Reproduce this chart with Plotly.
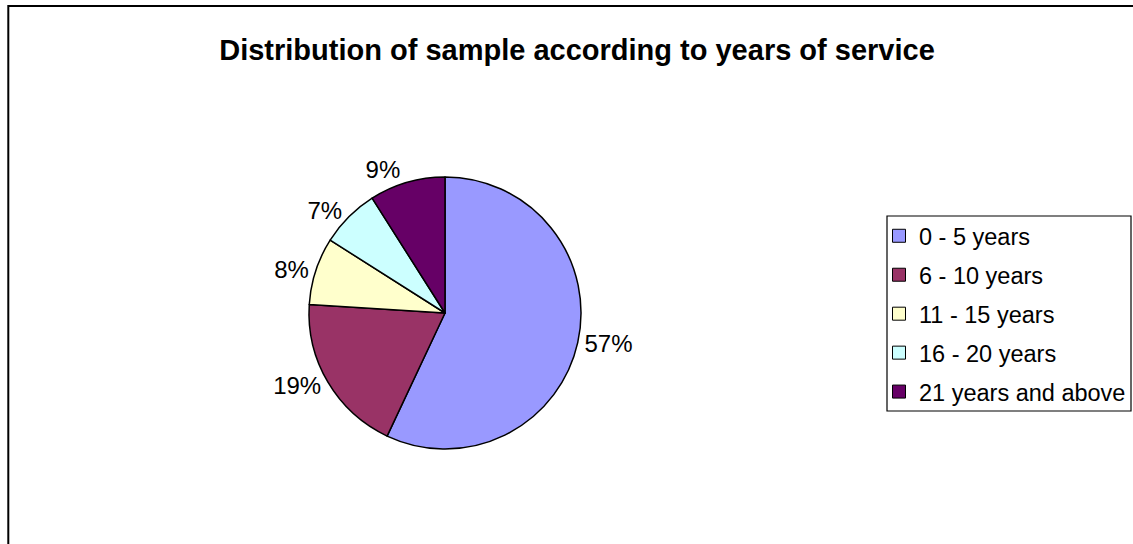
import plotly.graph_objects as go

categories = ["0 - 5 years", "6 - 10 years", "11 - 15 years", "16 - 20 years", "21 years and above"]
values = [57, 19, 8, 7, 9]
colors = ["#9999FF", "#993366", "#FFFFCC", "#CCFFFF", "#660066"]
title_text = "Distribution of sample according to years of service"

W, H = 1133, 544
FONT = "Arial, Liberation Sans, sans-serif"

# pie geometry (pixels)
cx, cy, r = 445, 313, 136
# legend box (pixels)
lx0, lx1, ly0, ly1 = 887, 1131, 216, 411

fig = go.Figure()
fig.add_trace(go.Pie(
    labels=categories,
    values=values,
    sort=False,
    direction="clockwise",
    rotation=0,
    marker=dict(colors=colors, line=dict(color="black", width=1.5)),
    textinfo="percent",
    texttemplate="%{percent:.0%}",
    textposition="outside",
    outsidetextfont=dict(family=FONT, size=24, color="black"),
    showlegend=False,
    domain=dict(x=[(cx - r) / W, (cx + r) / W],
                y=[(H - cy - r) / H, (H - cy + r) / H]),
    hoverinfo="label+percent",
))

# legend entries (one per category so spacing can be controlled)
for i, (cat, col) in enumerate(zip(categories, colors)):
    fig.add_trace(go.Scatter(
        x=[None], y=[None], mode="markers", name=cat,
        marker=dict(symbol="square", size=13, color=col,
                    line=dict(color="black", width=1)),
        legendgroup=f"g{i}", showlegend=True,
    ))

fig.update_layout(
    width=W, height=H,
    margin=dict(l=0, r=0, t=0, b=0, autoexpand=False),
    paper_bgcolor="white", plot_bgcolor="white",
    xaxis=dict(visible=False), yaxis=dict(visible=False),
    title=dict(text=f"<b>{title_text}</b>", x=577 / W, xanchor="center",
               y=1 - 50 / H, yanchor="middle",
               font=dict(family=FONT, size=29, color="black")),
    legend=dict(x=(lx0 - 8) / W, y=1 - (ly0 - 2) / H, xanchor="left", yanchor="top",
                borderwidth=0, bgcolor="rgba(0,0,0,0)",
                font=dict(family=FONT, size=23.5, color="black"),
                tracegroupgap=5.4, itemwidth=30),
    shapes=[
        dict(type="rect", xref="paper", yref="paper",
             x0=8.3 / W, x1=1.02, y0=-0.02, y1=1 - 6 / H,
             line=dict(color="black", width=2), fillcolor="rgba(0,0,0,0)"),
        dict(type="rect", xref="paper", yref="paper",
             x0=lx0 / W, x1=lx1 / W, y0=1 - ly1 / H, y1=1 - ly0 / H,
             line=dict(color="black", width=1.2), fillcolor="rgba(0,0,0,0)"),
    ],
)

fig.write_html("out.html")
